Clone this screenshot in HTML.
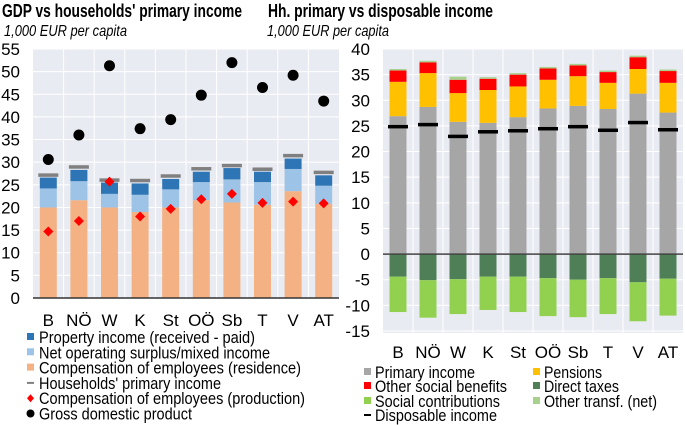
<!DOCTYPE html>
<html><head><meta charset="utf-8"><style>
html,body{margin:0;padding:0;background:#fff;}
svg{display:block;font-family:"Liberation Sans",Arial,sans-serif;}
</style></head><body>
<svg id="c" width="685" height="425" viewBox="0 0 685 425">
<text x="2" y="17" font-size="18" font-weight="bold" textLength="240" lengthAdjust="spacingAndGlyphs">GDP vs households' primary income</text>
<text x="4" y="36" font-size="16" font-style="italic" textLength="123" lengthAdjust="spacingAndGlyphs">1,000 EUR per capita</text>
<text x="268" y="17" font-size="18" font-weight="bold" textLength="225" lengthAdjust="spacingAndGlyphs">Hh. primary vs disposable income</text>
<text x="267" y="36" font-size="16" font-style="italic" textLength="122" lengthAdjust="spacingAndGlyphs">1,000 EUR per capita</text>
<g id="L"></g><g id="R"></g>
</svg>
<script>
const cats=["B","NÖ","W","K","St","OÖ","Sb","T","V","AT"];
// Left chart
const compRes=[20,21.6,20,19,20,21.6,21.1,20.6,23.6,20.8];
const nos=[4.2,4.2,3,3.8,4,4,5.1,5,4.9,4];
const prop=[2.4,2.5,2.5,2.5,2.3,2.3,2.5,2.3,2.3,2.3];
const primaryL=[27.2,29,26.1,26,27,28.6,29.3,28.5,31.5,27.8];
const compProd=[14.7,17,25.7,18,19.7,21.8,23,21,21.3,20.9];
const gdp=[30.6,36,51.3,37.4,39.4,44.8,52,46.5,49.2,43.5];
const leftTicks=[0,5,10,15,20,25,30,35,40,45,50,55];
// Right chart
const primaryR=[26.9,28.7,25.8,25.6,26.7,28.4,28.9,28.3,31.3,27.6];
const pensions=[6.7,6.6,5.6,6.4,6,5.6,5.8,5.1,4.8,5.8];
const otherBen=[2.2,2.1,2.6,2.2,2.3,2.2,2.1,2.1,2.3,2.3];
const otherTr=[0.3,0.3,0.6,0.3,0.3,0.3,0.3,0.3,0.3,0.3];
const directTax=[-4.4,-5.1,-4.9,-4.4,-4.4,-4.7,-5,-4.7,-5.5,-4.8];
const socContr=[-6.9,-7.3,-6.8,-6.5,-6.9,-7.4,-7.3,-7,-7.6,-7.2];
const disposable=[24.9,25.3,23,23.9,24.1,24.5,24.9,24.2,25.7,24.3];
const rightTicks=[-15,-10,-5,0,5,10,15,20,25,30,35,40];

const NS="http://www.w3.org/2000/svg";
function mk(p,t,a){const e=document.createElementNS(NS,t);for(const k in a)e.setAttribute(k,a[k]);p.appendChild(e);return e;}

// ---- Left
const L=document.getElementById('L');
const lx0=33,lx1=339,ly0=49,ly1=298,lmin=0,lmax=55;
const lY=v=>ly1-(v-lmin)/(lmax-lmin)*(ly1-ly0);
const lw=(lx1-lx0)/cats.length;
const lX=i=>lx0+lw*(i+0.5);
let bg=mk(L,'rect',{x:lx0,y:ly0,width:lx1-lx0,height:ly1-ly0,fill:'#e9ebf2'});

leftTicks.forEach(t=>{mk(L,'line',{x1:lx0,x2:lx1,y1:lY(t),y2:lY(t),stroke:'#fff','stroke-width':1});
 const tx=mk(L,'text',{x:lx0-13,y:lY(t)+6,'font-size':17,'text-anchor':'end'});tx.textContent=t;
 });
for(let i=1;i<cats.length;i++)mk(L,'line',{x1:lx0+lw*i,x2:lx0+lw*i,y1:ly0,y2:ly1,stroke:'#fff','stroke-width':1});
const bw=17;
cats.forEach((c,i)=>{
 const x=lX(i)-bw/2;
 const segs=[[0,compRes[i],'#f4b183','bar-compensation-residence'],[compRes[i],compRes[i]+nos[i],'#9dc3e6','bar-net-operating-surplus'],[compRes[i]+nos[i],compRes[i]+nos[i]+prop[i],'#2e75b6','bar-property-income']];
 segs.forEach(s=>{const r=mk(L,'rect',{x:x,y:lY(s[1]),width:bw,height:lY(s[0])-lY(s[1]),fill:s[2]});
  });
 const pl=mk(L,'rect',{x:x-1.5,y:lY(primaryL[i])-1.5,width:bw+3,height:3.5,fill:'#808080'});
 
 const yd=lY(compProd[i]),xd=lX(i);
 const d=mk(L,'polygon',{points:`${xd},${yd-5} ${xd+5},${yd} ${xd},${yd+5} ${xd-5},${yd}`,fill:'#ff0000'});
 
 const g=mk(L,'circle',{cx:xd,cy:lY(gdp[i]),r:5.5,fill:'#000'});
 
 const t=mk(L,'text',{x:xd,y:326,'font-size':17,'text-anchor':'middle'});t.textContent=c;
 
});
mk(L,'line',{x1:lx0,x2:lx1,y1:ly1,y2:ly1,stroke:'#333','stroke-width':1.5});
// left legend
const lleg=[['rect','#2e75b6','Property income (received - paid)',216],['rect','#9dc3e6','Net operating surplus/mixed income',231],['rect','#f4b183','Compensation of employees (residence)',262],['line','#808080',"Households' primary income",182],['diamond','#ff0000','Compensation of employees (production)',266],['circle','#000','Gross domestic product',153]];
lleg.forEach((e,k)=>{const y=337+k*15.3;
 if(e[0]=='rect')mk(L,'rect',{x:27,y:y-4,width:7,height:7,fill:e[1]});
 else if(e[0]=='line')mk(L,'rect',{x:27,y:y-1,width:7,height:2,fill:e[1]});
 else if(e[0]=='diamond')mk(L,'polygon',{points:`${30.5},${y-4} ${34},${y} ${30.5},${y+4} ${27},${y}`,fill:e[1]});
 else mk(L,'circle',{cx:30.5,cy:y,r:4,fill:e[1]});
 const t=mk(L,'text',{x:39,y:y+6,'font-size':17,textLength:e[3],lengthAdjust:'spacingAndGlyphs'});t.textContent=e[2];
 });

// ---- Right
const R=document.getElementById('R');
const rx0=383,rx1=683,ry0=49,ry1=331,rmin=-15,rmax=40;
const rY=v=>ry1-(v-rmin)/(rmax-rmin)*(ry1-ry0);
const rw=(rx1-rx0)/cats.length;
const rX=i=>rx0+rw*(i+0.5);
bg=mk(R,'rect',{x:rx0,y:ry0,width:rx1-rx0,height:ry1-ry0+2,fill:'#e9ebf2'});

rightTicks.forEach(t=>{mk(R,'line',{x1:rx0,x2:rx1,y1:rY(t),y2:rY(t),stroke:'#fff','stroke-width':1});
 const tx=mk(R,'text',{x:rx0-13,y:rY(t)+6,'font-size':17,'text-anchor':'end'});tx.textContent=t;
 });
for(let i=1;i<cats.length;i++)mk(R,'line',{x1:rx0+rw*i,x2:rx0+rw*i,y1:ry0,y2:ry1+2,stroke:'#fff','stroke-width':1});
cats.forEach((c,i)=>{
 const x=rX(i)-bw/2;
 let a=primaryR[i],b=a+pensions[i],cc=b+otherBen[i],d=cc+otherTr[i];
 const segs=[[0,a,'#a6a6a6','bar-primary-income'],[a,b,'#ffc000','bar-pensions'],[b,cc,'#ff0000','bar-other-social-benefits'],[cc,d,'#a9d18e','bar-other-transfers'],[directTax[i],0,'#4e7f56','bar-direct-taxes'],[directTax[i]+socContr[i],directTax[i],'#92d050','bar-social-contributions']];
 segs.forEach(s=>{const r=mk(R,'rect',{x:x,y:rY(s[1]),width:bw,height:rY(s[0])-rY(s[1]),fill:s[2]});
  });
 const dl=mk(R,'rect',{x:x-1.5,y:rY(disposable[i])-1.5,width:bw+3,height:3.5,fill:'#000'});
 
 const t=mk(R,'text',{x:rX(i),y:358,'font-size':17,'text-anchor':'middle'});t.textContent=c;
 
});
mk(R,'line',{x1:rx0,x2:rx1,y1:rY(0),y2:rY(0),stroke:'#444','stroke-width':1.5});
const rleg=[[367,372,'#a6a6a6','Primary income',100,'rect'],[536,372,'#ffc000','Pensions',58,'rect'],[367,386,'#ff0000','Other social benefits',132,'rect'],[536,386,'#4e7f56','Direct taxes',75,'rect'],[367,401,'#92d050','Social contributions',125,'rect'],[536,401,'#a9d18e','Other transf. (net)',113,'rect'],[367,415,'#000','Disposable income',122,'line']];
rleg.forEach(e=>{
 if(e[5]=='rect')mk(R,'rect',{x:e[0]-3,y:e[1]-4,width:7,height:7,fill:e[2]});
 else mk(R,'rect',{x:e[0]-3,y:e[1]-1,width:7,height:2,fill:e[2]});
 const t=mk(R,'text',{x:e[0]+8,y:e[1]+6,'font-size':17,textLength:e[4],lengthAdjust:'spacingAndGlyphs'});t.textContent=e[3];
 });
</script>
</body></html>
